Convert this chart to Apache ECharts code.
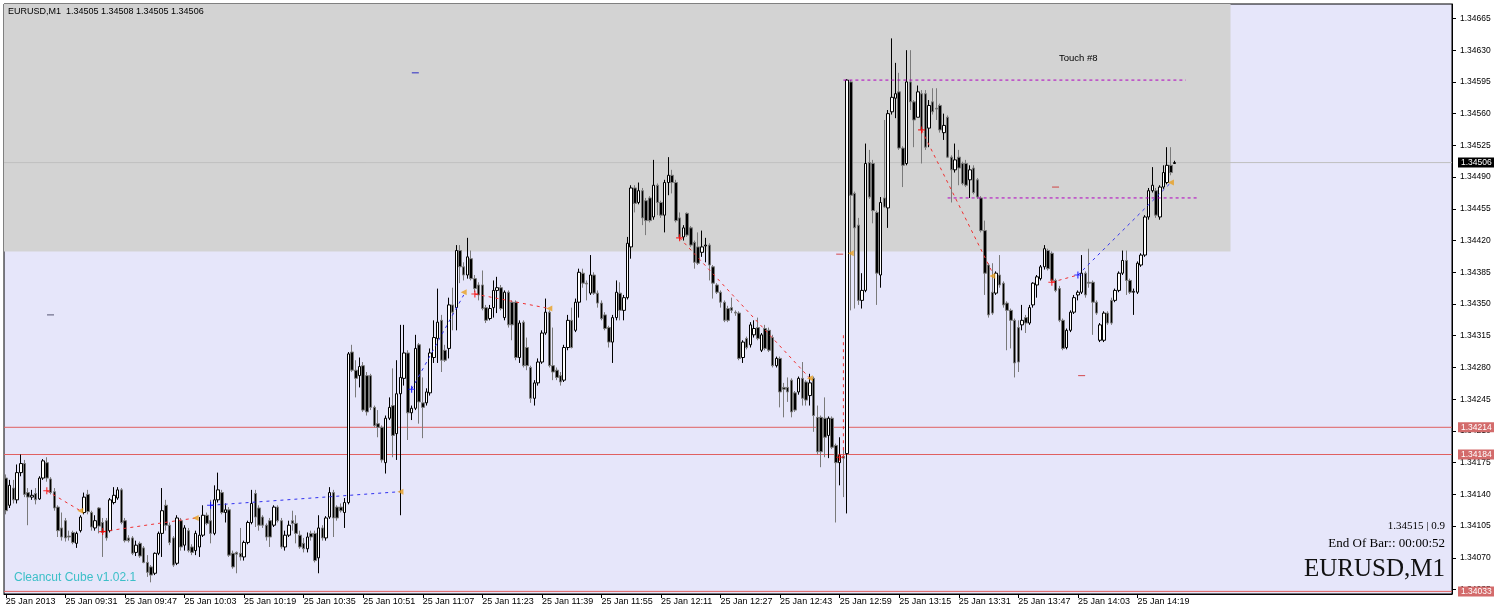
<!DOCTYPE html>
<html><head><meta charset="utf-8">
<script src="https://cdn.jsdelivr.net/npm/echarts@6/dist/echarts.min.js"></script>
<style>html,body{margin:0;padding:0;background:#fff}#c{width:1494px;height:614px}</style>
</head><body><div id="c"></div>
<script>
// All prices are in points (0.00001) above BASE.
const BASE = 1.34;
// one row per M1 bar from 25 Jan 2013 09:15: [open, close, low, high]
const ohlc = [
[158,122,118,162],[128,150,125,156],[147,134,130,156],[134,164,130,173],[164,174,160,184],
[174,140,137,178],[142,137,106,147],[137,139,134,145],[141,134,129,147],[135,158,134,160],
[158,177,156,179],[175,158,154,181],[157,142,140,159],[143,125,122,147],[126,100,93,128],
[103,93,89,120],[111,92,88,114],[94,93,89,100],[98,87,85,100],[86,97,81,99],
[100,115,98,117],[120,137,118,142],[140,121,118,145],[120,104,100,122],[103,111,100,117],
[125,105,97,126],[109,98,71,114],[111,92,89,114],[100,134,98,136],[131,139,129,148],
[136,145,134,148],[145,109,107,147],[111,89,87,114],[92,89,87,95],[92,75,73,94],
[76,84,72,89],[86,72,70,88],[81,65,64,83],[65,54,49,73],[60,51,43,62],
[53,75,51,76],[75,97,73,99],[97,122,71,147],[128,106,100,134],[106,87,84,109],
[92,62,60,94],[64,114,62,117],[111,82,78,114],[84,103,78,106],[100,78,76,103],
[82,76,73,85],[78,97,73,100],[82,95,71,115],[95,117,93,128],[117,108,106,120],
[111,97,86,134],[97,134,95,150],[134,145,131,164],[142,120,118,145],[120,123,109,130],
[123,73,71,126],[75,60,58,78],[76,74,53,77],[75,71,67,103],[71,87,67,89],
[87,109,85,111],[109,130,107,145],[141,115,104,145],[125,106,100,128],[115,106,103,117],
[106,93,89,108],[111,93,82,114],[106,126,104,128],[126,111,109,128],[111,82,80,114],
[82,95,78,100],[95,106,93,111],[111,108,100,122],[108,97,86,117],[95,82,80,100],
[86,80,76,92],[80,93,76,98],[97,93,89,100],[97,67,65,100],[70,103,53,117],
[103,92,89,106],[92,114,89,116],[115,142,113,148],[142,114,93,145],[126,114,111,128],
[126,122,120,130],[120,131,103,136],[131,295,129,297],[297,277,275,305],[277,268,247,288],
[271,281,258,291],[282,233,231,286],[271,231,227,275],[271,236,233,273],[236,216,214,238],
[218,214,203,233],[214,178,175,216],[175,224,163,227],[224,236,222,247],[238,205,181,279],
[207,251,178,288],[251,269,117,327],[268,296,260,327],[296,230,200,299],[230,235,222,238],
[235,301,233,316],[305,242,218,307],[241,236,202,269],[241,253,238,257],[252,296,249,301],
[291,313,285,332],[312,330,285,367],[332,288,275,338],[299,288,286,305],[301,349,290,357],
[349,341,321,368],[346,409,321,415],[409,391,373,415],[391,382,376,396],[382,402,378,423],
[400,378,376,409],[378,367,363,382],[371,360,354,374],[371,345,343,387],[346,332,329,349],
[334,345,332,349],[346,365,335,376],[365,368,340,380],[368,345,343,371],[335,363,332,365],
[363,327,324,365],[352,327,310,354],[352,291,288,354],[291,329,285,332],[330,282,280,332],
[302,282,277,313],[280,246,241,282],[246,263,238,266],[263,286,260,290],[286,318,284,321],
[318,341,316,356],[341,282,280,343],[282,275,266,324],[277,269,266,280],[271,264,260,275],
[266,302,264,305],[302,332,299,338],[332,302,301,346],[321,352,319,356],[352,385,335,389],
[384,373,368,389],[373,372,354,376],[362,382,360,404],[382,362,360,385],[362,351,346,365],
[351,334,332,354],[338,323,321,341],[324,308,302,326],[308,335,285,338],[335,363,332,376],
[362,343,332,374],[343,357,332,360],[357,417,355,424],[413,478,400,481],[478,461,451,481],
[462,475,460,484],[475,445,437,478],[464,442,426,467],[467,442,440,469],[446,481,443,509],
[481,462,448,483],[462,448,445,464],[448,484,429,487],[484,492,470,512],[492,484,472,498],
[484,442,440,487],[445,424,421,451],[424,434,420,437],[450,426,424,451],[434,415,413,436],
[418,396,389,420],[413,395,393,429],[407,413,402,431],[414,415,396,423],[415,393,376,417],
[391,373,356,393],[371,363,361,373],[363,352,346,365],[352,332,330,354],[345,332,330,348],
[346,343,340,357],[341,340,337,343],[340,290,288,342],[291,308,285,310],[312,302,300,314],
[305,327,302,330],[316,323,313,332],[324,312,310,335],[299,316,297,318],[323,301,299,327],
[321,299,297,324],[313,282,280,316],[282,290,280,292],[290,253,236,292],[258,256,225,263],
[258,253,242,269],[266,231,225,268],[252,233,231,254],[253,268,250,270],[268,246,238,286],
[264,244,238,266],[249,263,238,273],[268,227,209,270],[225,187,184,238],[225,187,170,227],
[224,203,181,247],[205,224,180,226],[224,192,190,226],[194,175,109,196],[175,183,150,203],
[182,180,137,192],[185,597,119,598],[595,470,343,597],[472,434,345,474],[437,354,349,445],
[354,365,345,384],[365,505,363,527],[506,468,466,520],[505,453,439,509],[451,384,349,453],
[382,462,368,468],[467,457,456,553],[456,560,434,564],[562,578,559,643],[577,582,555,616],
[584,522,520,605],[522,503,479,524],[505,595,503,630],[595,573,564,630],[573,553,523,575],
[556,584,556,591],[582,542,505,586],[582,523,520,586],[544,569,523,575],[573,562,559,588],
[566,565,553,588],[569,542,539,571],[539,547,531,560],[556,512,511,558],[512,498,462,514],
[498,509,495,527],[512,500,481,520],[505,483,481,507],[505,481,479,509],[487,498,467,503],
[500,473,471,503],[487,468,466,489],[467,431,429,469],[431,384,360,442],[393,338,335,395],
[363,340,338,395],[362,384,360,386],[382,371,368,404],[373,349,346,375],[351,343,299,353],
[343,332,301,345],[332,285,269,334],[324,286,275,332],[327,332,321,349],[335,329,318,338],
[329,346,327,349],[349,373,346,374],[371,380,357,382],[378,391,376,393],[391,411,388,415],
[409,389,387,411],[406,376,374,408],[376,365,363,378],[367,332,330,370],[332,301,299,334],
[302,321,300,323],[321,341,319,343],[341,357,339,360],[360,363,354,365],[363,384,361,404],
[384,360,357,386],[374,373,368,411],[374,352,316,376],[352,340,338,354],[310,327,308,329],
[310,340,308,342],[340,329,327,342],[354,329,327,357],[354,365,352,367],[365,384,363,386],
[384,398,382,409],[398,376,360,409],[376,363,361,378],[363,364,338,367],[363,395,361,397],
[393,404,391,406],[404,446,402,448],[446,475,443,478],[475,481,473,501],[475,448,445,478],
[446,479,443,481],[479,495,477,503],[484,503,482,523],[503,495,492,523],[505,506,505,508]
];

// time axis tick positions (bar index) and their labels
const xTickIdx = [0,16,32,48,64,80,96,112,128,144,160,176,192,208,224,240,256,272,288,304];
const xTickLabels = ['25 Jan 2013','25 Jan 09:31','25 Jan 09:47','25 Jan 10:03','25 Jan 10:19',
  '25 Jan 10:35','25 Jan 10:51','25 Jan 11:07','25 Jan 11:23','25 Jan 11:39','25 Jan 11:55',
  '25 Jan 12:11','25 Jan 12:27','25 Jan 12:43','25 Jan 12:59','25 Jan 13:15','25 Jan 13:31',
  '25 Jan 13:47','25 Jan 14:03','25 Jan 14:19'];
// price axis ticks (points above BASE)
const yTicks = [35,70,105,140,175,210,245,280,315,350,385,420,455,490,525,560,595,630,665];

// horizontal levels
const bidLevel = 506;
const redLevels = [214,184,33];
// shaded zone: from bar index to bar index, lower price edge
const zoneStartIdx = -0.5, zoneEndIdx = 329, zoneLow = 408;
// dotted "touch" levels
const touchLevels = [[[225,597],[317,597]], [[253,467],[320,467]]];
const touchLabel = 'Touch #8';
// zigzag-like indicator paths [barIndex, points]
const redPaths = [
  [[11,144],[20,122]], [[26,99],[51,114]], [[126,361],[146,345]],
  [[181,423],[216,268]], [[225,181],[225,318]], [[246,542],[265,385]], [[281,374],[288,382]]
];
const bluePaths = [[[55,128],[106,143]], [[109,256],[123,360]], [[288,382],[313,484]]];
const redMarks = [[11,144],[26,99],[126,361],[181,423],[224,181],[246,542],[281,374]];
const blueMarks = [[55,128],[109,256],[288,382]];
const orangeMarks = [[20,122],[51,114],[106,143],[123,363],[146,345],[216,268],[227,406],[265,381],[313,484]];
const blueDashes = [[110,605]];
const navyDashes = [[12,338]];
const redDashes = [[282,479],[289,271],[224,405]];

const headerText = 'EURUSD,M1  1.34505 1.34508 1.34505 1.34506';
const infoLines = ['1.34515 | 0.9', 'End Of Bar:: 00:00:52', 'EURUSD,M1'];
const brandText = 'Cleancut Cube v1.02.1';

const Y_MIN = 30.13, Y_MAX = 680.93, X_MIN = -0.5, X_MAX = 388.5;
const fmt = v => (BASE + v / 1e5).toFixed(5);
const SANS = '"Liberation Sans", Arial, sans-serif';
const SERIF = '"Liberation Serif", "DejaVu Serif", serif';

const candleData = ohlc.map((r, i) => [i, r[0], r[1], r[2], r[3]]);

const series = [];
// horizontal level lines drawn as plain two-point lines across the whole time range
series.push({ type: 'line', data: [[X_MIN, bidLevel], [X_MAX, bidLevel]], symbol: 'none', z: 2, silent: true,
  lineStyle: { color: '#c0c0c0', width: 1 } });
redLevels.forEach(v => series.push({ type: 'line', data: [[X_MIN, v], [X_MAX, v]], symbol: 'none', z: 2, silent: true,
  lineStyle: { color: '#e06060', width: 1 } }));
series.push({
  type: 'candlestick', name: 'EURUSD', z: 3,
  dimensions: ['idx','open','close','lowest','highest'],
  encode: { x: 0, y: [1,2,3,4] },
  data: candleData,
  barWidth: 3,
  itemStyle: { color: '#ffffff', borderColor: '#000000', color0: '#000000', borderColor0: '#7a7a7a', borderWidth: 1 },
  markArea: {
    silent: true, z: 0,
    itemStyle: { color: '#d3d3d3' },
    data: [[{ xAxis: zoneStartIdx, yAxis: zoneLow }, { xAxis: zoneEndIdx, yAxis: Y_MAX }]]
  },
  markLine: {
    silent: true, symbol: ['none','none'], animation: false,
    lineStyle: { color: 'rgba(0,0,0,0)', width: 1 },
    label: { show: true, position: 'end', distance: 6, formatter: p => fmt(p.value), color: '#fff',
      fontSize: 8.5, fontFamily: SANS, padding: [1, 3, 0, 3] },
    data: [
      { yAxis: bidLevel, label: { backgroundColor: '#000' } }
    ].concat(redLevels.map(v => ({ yAxis: v, label: { backgroundColor: '#d36b6b' } })))
  }
});
touchLevels.forEach(seg => series.push({ type: 'line', data: seg, symbol: 'none', z: 4, silent: true,
  lineStyle: { color: '#b000c0', width: 1, type: [3, 3] } }));
redPaths.forEach(seg => series.push({ type: 'line', data: seg, symbol: 'none', z: 4, silent: true,
  lineStyle: { color: '#f03030', width: 1, type: [3, 4] } }));
bluePaths.forEach(seg => series.push({ type: 'line', data: seg, symbol: 'none', z: 4, silent: true,
  lineStyle: { color: '#3030f0', width: 1, type: [3, 4] } }));
const PLUS = 'path://M0,2.5H6V3.5H0Z M2.5,0H3.5V6H2.5Z';
series.push({ type: 'scatter', data: redMarks, symbol: PLUS, symbolSize: 7, z: 5, silent: true, itemStyle: { color: '#ff0000' } });
series.push({ type: 'scatter', data: blueMarks, symbol: PLUS, symbolSize: 7, z: 5, silent: true, itemStyle: { color: '#0000ff' } });
series.push({ type: 'scatter', data: orangeMarks, symbol: 'path://M6,0L0,3.5L6,7Z', symbolSize: 6, z: 5, silent: true, itemStyle: { color: '#e8a020' } });
series.push({ type: 'scatter', data: blueDashes, symbol: 'rect', symbolSize: [7, 1], z: 5, silent: true, itemStyle: { color: '#0000c0' } });
series.push({ type: 'scatter', data: navyDashes, symbol: 'rect', symbolSize: [7, 1], z: 5, silent: true, itemStyle: { color: '#303050' } });
series.push({ type: 'scatter', data: redDashes, symbol: 'rect', symbolSize: [7, 1], z: 5, silent: true, itemStyle: { color: '#d02020' } });

const chart = echarts.init(document.getElementById('c'), null, { renderer: 'canvas' });
chart.setOption({
  animation: false,
  backgroundColor: '#ffffff',
  grid: { left: 4, right: 42, top: 4, bottom: 20, containLabel: false, outerBoundsMode: 'none',
    show: true, backgroundColor: '#e6e6fa', borderColor: '#000', borderWidth: 1 },
  xAxis: {
    type: 'value', min: X_MIN, max: X_MAX, position: 'bottom',
    axisLine: { show: true, onZero: false, lineStyle: { color: '#000' } },
    axisTick: { show: true, customValues: xTickIdx, length: 4, lineStyle: { color: '#000' } },
    axisLabel: { customValues: xTickIdx, formatter: v => xTickLabels[xTickIdx.indexOf(Math.round(v))] || '',
      align: 'left', fontSize: 9, fontFamily: SANS, color: '#000', margin: 3 },
    splitLine: { show: false }
  },
  yAxis: {
    type: 'value', min: Y_MIN, max: Y_MAX, position: 'right', scale: true,
    axisLine: { show: true, onZero: false, lineStyle: { color: '#000' } },
    axisTick: { show: true, customValues: yTicks, length: 4, lineStyle: { color: '#000' } },
    axisLabel: { customValues: yTicks, formatter: v => fmt(v), fontSize: 8.5, fontFamily: SANS, color: '#000', margin: 8 },
    splitLine: { show: false }
  },
  series: series,
  graphic: [
    { type: 'text', left: 8, top: 7, z: 10, style: { text: headerText, font: '9px ' + SANS, fill: '#000' } },
    { type: 'text', left: 1059, top: 53, z: 10, style: { text: touchLabel, font: '9.5px ' + SANS, fill: '#000' } },
    { type: 'text', left: 14, top: 572, z: 10, style: { text: brandText, font: '12px ' + SANS, fill: '#3cbfc8' } },
    { type: 'text', right: 49, top: 521, z: 10, style: { text: infoLines[0], font: '11px ' + SERIF, fill: '#000' } },
    { type: 'text', right: 49, top: 537, z: 10, style: { text: infoLines[1], font: '13px ' + SERIF, fill: '#000' } },
    { type: 'text', right: 49, top: 557, z: 10, style: { text: infoLines[2], font: '25px ' + SERIF, fill: '#111' } }
  ]
});
</script></body></html>
